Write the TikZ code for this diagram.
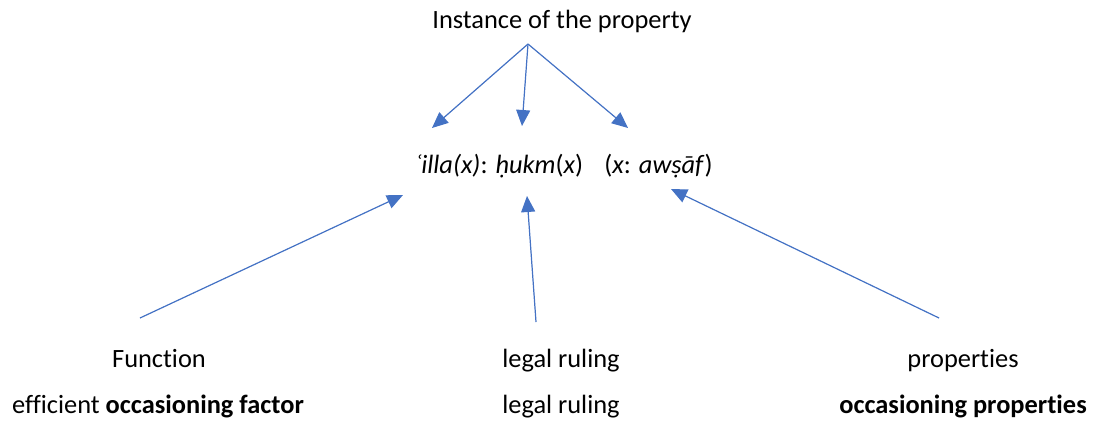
\documentclass[tikz,border=0pt]{standalone}
\usepackage{fontspec}
\setmainfont{Carlito}[Ligatures=NoCommon]
\usepackage{tikz}
\usetikzlibrary{arrows.meta, positioning, calc}
\definecolor{arrowblue}{HTML}{4472C4}
\tikzset{
  term/.style = {anchor=base, inner sep=0pt, font=\fontsize{26.4}{32}\selectfont},
  arrow/.style = {-{Triangle[length=16pt, width=14pt]}, line width=1.2pt, draw=arrowblue, fill=arrowblue}
}

\begin{document}
\begin{tikzpicture}[x=1pt, y=-1pt]
  \useasboundingbox (0,0) rectangle (1095,423);

  % top and middle
  \node[term] (instance) at (562,28) {Instance of the property};
  \node[term] (formula)  at (564,173) {\textit{ʿilla(x)}: \textit{ḥukm}(\textit{x})\hspace{0.8em}(\textit{x}: \textit{awṣāf})};

  % bottom rows
  \node[term] (function) at (159,367) {Function};
  \node[term] (ruling)   at (561,367) {legal ruling};
  \node[term] (props)    at (963,367) {properties};
  \node[term] (factor)   at (158,413) {efficient \textbf{occasioning factor}};
  \node[term] (ruling2)  at (561,413) {legal ruling};
  \node[term] (occprops) at (963,413) {\textbf{occasioning properties}};

  % arrow ends
  \coordinate (apex)    at (528,44);
  \coordinate (tipA)    at (432,128);
  \coordinate (tipB)    at (522,126);
  \coordinate (tipC)    at (628,128);
  \coordinate (tailA)   at (140,318);
  \coordinate (tailB)   at (536,322);
  \coordinate (tailC)   at (939,318);
  \coordinate (upA)     at (403,195);
  \coordinate (upB)     at (527,196);
  \coordinate (upC)     at (671,189);

  \draw[arrow] (apex) -- (tipA);
  \draw[arrow] (apex) -- (tipB);
  \draw[arrow] (apex) -- (tipC);
  \draw[arrow] (tailA) -- (upA);
  \draw[arrow] (tailB) -- (upB);
  \draw[arrow] (tailC) -- (upC);
\end{tikzpicture}
\end{document}
